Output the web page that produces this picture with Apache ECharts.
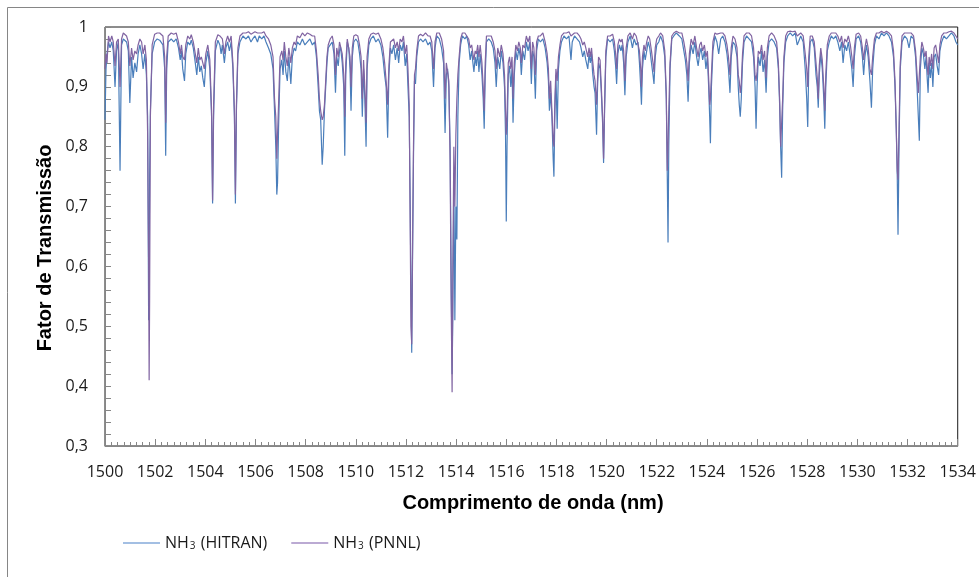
<!DOCTYPE html>
<html>
<head>
<meta charset="utf-8">
<title>NH3 - Fator de Transmissão</title>
<script src="https://cdn.jsdelivr.net/npm/echarts@6/dist/echarts.min.js"></script>
<style>
  html, body { margin: 0; padding: 0; background: #fff; }
  #chart { width: 979px; height: 577px; }
</style>
</head>
<body>
<div id="chart"></div>
<script>
// eixos
var xRange = [1500, 1534, 2];   // min, max, intervalo (nm)
var yRange = [0.3, 1, 0.1];
var seriesNames = ['HITRAN', 'PNNL'];

// [comprimento de onda (nm), fator de transmissao]
var hitran = [
  [1500.00,0.845],[1500.04,0.93],[1500.08,0.955],[1500.14,0.975],[1500.20,0.965],[1500.27,0.975],[1500.33,0.96],[1500.40,0.90],
  [1500.46,0.96],[1500.53,0.975],[1500.60,0.76],[1500.66,0.97],[1500.73,0.98],[1500.79,0.978],[1500.86,0.975],[1500.93,0.96],
  [1500.99,0.873],[1501.06,0.95],[1501.12,0.915],[1501.19,0.94],[1501.26,0.925],[1501.32,0.955],[1501.39,0.97],[1501.46,0.955],
  [1501.52,0.93],[1501.59,0.955],[1501.65,0.92],[1501.70,0.85],[1501.74,0.51],[1501.76,0.60],[1501.78,0.75],[1501.81,0.86],
  [1501.88,0.955],[1501.98,0.975],[1502.08,0.98],[1502.18,0.978],
  [1502.31,0.97],[1502.38,0.93],[1502.42,0.785],[1502.46,0.93],[1502.52,0.975],[1502.64,0.98],[1502.74,0.975],[1502.84,0.98],
  [1502.93,0.965],[1503.00,0.945],[1503.05,0.96],[1503.10,0.93],[1503.17,0.91],[1503.22,0.955],[1503.30,0.975],[1503.38,0.97],
  [1503.44,0.978],[1503.52,0.965],[1503.60,0.94],[1503.66,0.92],[1503.72,0.95],[1503.78,0.925],[1503.84,0.935],[1503.90,0.915],
  [1503.96,0.90],[1504.02,0.94],[1504.10,0.96],[1504.18,0.93],[1504.25,0.85],[1504.29,0.705],[1504.33,0.85],[1504.40,0.96],
  [1504.50,0.978],
  [1504.58,0.97],[1504.63,0.955],[1504.68,0.97],[1504.76,0.94],[1504.82,0.965],[1504.89,0.975],[1504.96,0.96],[1505.03,0.975],
  [1505.10,0.93],[1505.16,0.85],[1505.20,0.705],[1505.24,0.86],[1505.30,0.955],[1505.38,0.975],[1505.50,0.985],[1505.62,0.98],
  [1505.72,0.985],[1505.82,0.975],[1505.89,0.98],[1505.98,0.985],[1506.08,0.975],[1506.15,0.985],[1506.25,0.98],[1506.34,0.985],
  [1506.42,0.975],[1506.52,0.965],[1506.61,0.955],[1506.70,0.93],[1506.76,0.86],[1506.81,0.80],[1506.85,0.72],[1506.88,0.74],
  [1506.92,0.83],[1506.98,0.93],[1507.05,0.945],[1507.10,0.92],[1507.15,0.96],[1507.21,0.925],[1507.27,0.91],[1507.33,0.95],
  [1507.41,0.905],[1507.47,0.95],[1507.54,0.965],[1507.60,0.96],[1507.67,0.975],[1507.77,0.97],[1507.87,0.98],[1507.97,0.97],
  [1508.07,0.975],[1508.17,0.98],[1508.27,0.97],[1508.36,0.975],[1508.43,0.95],
  [1508.50,0.90],[1508.55,0.86],[1508.60,0.845],[1508.66,0.77],[1508.70,0.80],[1508.75,0.86],[1508.80,0.90],[1508.85,0.94],
  [1508.90,0.965],[1508.98,0.97],[1509.06,0.975],[1509.13,0.955],[1509.19,0.89],[1509.24,0.95],[1509.30,0.935],[1509.35,0.96],
  [1509.39,0.967],[1509.46,0.94],[1509.52,0.90],[1509.56,0.785],[1509.60,0.92],[1509.66,0.975],[1509.72,0.965],[1509.77,0.93],
  [1509.81,0.86],[1509.86,0.95],[1509.92,0.975],[1510.00,0.98],[1510.08,0.975],[1510.15,0.955],[1510.21,0.93],[1510.26,0.85],
  [1510.31,0.93],[1510.36,0.88],[1510.41,0.80],[1510.45,0.93],[1510.52,0.97],
  [1510.60,0.98],[1510.70,0.985],[1510.80,0.975],[1510.90,0.98],[1511.00,0.97],[1511.08,0.95],[1511.15,0.92],[1511.21,0.90],
  [1511.27,0.815],[1511.32,0.92],[1511.38,0.965],[1511.44,0.955],[1511.51,0.97],[1511.58,0.945],[1511.65,0.965],[1511.71,0.94],
  [1511.77,0.97],[1511.84,0.96],[1511.90,0.975],[1511.97,0.935],[1512.03,0.955],[1512.08,0.90],[1512.13,0.85],[1512.17,0.70],
  [1512.20,0.56],[1512.23,0.456],[1512.26,0.60],[1512.30,0.78],[1512.34,0.91],[1512.38,0.905],[1512.43,0.95],[1512.50,0.975],
  [1512.58,0.98],[1512.68,0.975],[1512.78,0.98],[1512.88,0.97],[1512.96,0.975],[1513.03,0.96],[1513.10,0.90],[1513.16,0.965],
  [1513.23,0.985],[1513.33,0.98],[1513.42,0.965],[1513.50,0.94],[1513.56,0.823],[1513.61,0.92],[1513.66,0.93],[1513.71,0.90],
  [1513.76,0.80],[1513.80,0.60],[1513.84,0.42],[1513.87,0.52],[1513.91,0.74],[1513.95,0.51],[1513.99,0.70],[1514.03,0.645],
  [1514.07,0.85],[1514.12,0.94],[1514.18,0.97],[1514.25,0.985],[1514.35,0.98],[1514.42,0.985],[1514.50,0.97],
  [1514.56,0.945],[1514.62,0.96],[1514.67,0.94],[1514.71,0.925],[1514.76,0.95],[1514.81,0.935],[1514.86,0.96],[1514.91,0.925],
  [1514.96,0.955],[1515.03,0.92],[1515.08,0.88],[1515.12,0.83],[1515.16,0.92],[1515.21,0.975],[1515.30,0.98],[1515.40,0.975],
  [1515.48,0.965],[1515.55,0.94],[1515.60,0.90],[1515.66,0.95],[1515.74,0.93],[1515.80,0.96],[1515.87,0.94],[1515.93,0.90],
  [1515.97,0.82],[1516.00,0.675],[1516.03,0.80],[1516.08,0.92],[1516.13,0.935],[1516.18,0.90],[1516.23,0.93],[1516.27,0.84],
  [1516.32,0.92],[1516.38,0.96],[1516.44,0.945],[1516.50,0.965],
  [1516.56,0.95],[1516.60,0.92],[1516.66,0.96],[1516.73,0.945],[1516.80,0.975],[1516.87,0.96],[1516.94,0.975],[1517.00,0.905],
  [1517.05,0.96],[1517.10,0.95],[1517.16,0.88],[1517.21,0.96],[1517.28,0.98],[1517.36,0.975],[1517.46,0.98],[1517.55,0.965],
  [1517.63,0.94],[1517.68,0.91],[1517.72,0.86],[1517.77,0.89],[1517.82,0.85],[1517.87,0.78],[1517.90,0.75],[1517.94,0.86],
  [1517.98,0.92],[1518.03,0.83],[1518.08,0.93],[1518.14,0.96],[1518.20,0.975],[1518.30,0.985],[1518.40,0.98],[1518.50,0.985],
  [1518.58,0.945],[1518.63,0.975],[1518.72,0.985],[1518.82,0.98],[1518.92,0.975],[1518.98,0.965],[1519.05,0.95],[1519.11,0.96],
  [1519.17,0.945],[1519.25,0.93],[1519.30,0.955],[1519.35,0.94],[1519.40,0.955],[1519.44,0.925],[1519.50,0.90],[1519.54,0.89],
  [1519.60,0.82],[1519.64,0.90],[1519.68,0.94],[1519.74,0.93],[1519.79,0.89],[1519.84,0.84],[1519.88,0.773],[1519.92,0.86],
  [1519.97,0.95],[1520.04,0.98],[1520.14,0.975],[1520.24,0.98],[1520.31,0.96],[1520.36,0.935],[1520.40,0.905],[1520.45,0.955],
  [1520.51,0.97],
  [1520.57,0.96],[1520.62,0.97],[1520.68,0.94],[1520.73,0.886],[1520.78,0.95],[1520.85,0.975],[1520.94,0.985],[1521.03,0.965],
  [1521.10,0.98],[1521.18,0.97],[1521.25,0.975],[1521.31,0.94],[1521.36,0.90],[1521.39,0.87],[1521.43,0.93],[1521.49,0.96],
  [1521.54,0.945],[1521.60,0.96],[1521.66,0.975],[1521.72,0.965],[1521.79,0.94],[1521.85,0.92],[1521.89,0.905],[1521.94,0.95],
  [1522.00,0.97],[1522.08,0.975],[1522.15,0.985],[1522.24,0.975],[1522.32,0.95],[1522.38,0.88],[1522.42,0.75],[1522.45,0.64],
  [1522.48,0.80],[1522.53,0.93],[1522.60,0.98],
  [1522.68,0.985],[1522.78,0.99],[1522.90,0.985],[1523.00,0.98],[1523.08,0.96],[1523.14,0.945],[1523.20,0.92],[1523.25,0.875],
  [1523.30,0.94],[1523.37,0.97],[1523.45,0.955],[1523.52,0.975],[1523.59,0.95],[1523.65,0.935],[1523.71,0.955],[1523.77,0.965],
  [1523.83,0.945],[1523.90,0.96],[1523.96,0.93],[1524.02,0.95],[1524.07,0.90],[1524.11,0.85],[1524.14,0.806],[1524.18,0.90],
  [1524.24,0.96],[1524.32,0.985],[1524.40,0.975],[1524.47,0.955],[1524.55,0.98],[1524.63,0.985],[1524.72,0.975],[1524.80,0.955],
  [1524.86,0.93],[1524.92,0.89],[1524.97,0.95],[1525.04,0.975],[1525.12,0.97],
  [1525.20,0.95],[1525.25,0.90],[1525.29,0.87],[1525.33,0.85],[1525.37,0.88],[1525.42,0.94],[1525.48,0.975],[1525.58,0.985],
  [1525.68,0.98],[1525.78,0.975],[1525.86,0.95],[1525.92,0.90],[1525.96,0.83],[1526.00,0.90],[1526.05,0.95],[1526.12,0.935],
  [1526.18,0.96],[1526.24,0.925],[1526.30,0.945],[1526.36,0.89],[1526.41,0.95],[1526.48,0.975],[1526.58,0.98],[1526.68,0.975],
  [1526.78,0.965],[1526.85,0.93],[1526.90,0.87],[1526.94,0.80],[1526.98,0.748],[1527.02,0.86],[1527.07,0.94],[1527.14,0.975],
  [1527.22,0.985],
  [1527.32,0.99],[1527.42,0.985],[1527.52,0.99],[1527.60,0.97],[1527.65,0.975],[1527.74,0.985],[1527.84,0.975],[1527.92,0.93],
  [1527.98,0.88],[1528.02,0.833],[1528.06,0.93],[1528.12,0.975],[1528.20,0.98],[1528.28,0.965],[1528.35,0.92],[1528.40,0.90],
  [1528.44,0.865],[1528.48,0.92],[1528.54,0.955],[1528.60,0.93],[1528.66,0.88],[1528.70,0.83],[1528.74,0.90],[1528.80,0.96],
  [1528.88,0.975],[1528.96,0.985],[1529.05,0.98],[1529.14,0.985],[1529.22,0.975],
  [1529.30,0.96],[1529.37,0.975],[1529.43,0.94],[1529.50,0.97],[1529.57,0.96],[1529.64,0.975],[1529.72,0.95],[1529.78,0.93],
  [1529.83,0.90],[1529.88,0.95],[1529.95,0.98],[1530.05,0.985],[1530.13,0.975],[1530.20,0.95],[1530.25,0.92],[1530.30,0.95],
  [1530.36,0.97],[1530.43,0.95],[1530.50,0.91],[1530.56,0.865],[1530.61,0.93],[1530.68,0.97],[1530.76,0.985],[1530.86,0.98],
  [1530.96,0.99],[1531.06,0.985],[1531.16,0.99],[1531.26,0.985],[1531.36,0.975],[1531.44,0.95],[1531.50,0.90],[1531.55,0.83],
  [1531.59,0.75],[1531.62,0.653],[1531.66,0.80],[1531.71,0.93],[1531.78,0.975],
  [1531.88,0.985],[1531.98,0.98],[1532.06,0.965],[1532.14,0.985],[1532.24,0.98],[1532.32,0.95],[1532.38,0.90],[1532.43,0.85],
  [1532.47,0.81],[1532.51,0.93],[1532.57,0.965],[1532.63,0.955],[1532.69,0.93],[1532.74,0.95],[1532.79,0.91],[1532.82,0.89],
  [1532.86,0.94],[1532.91,0.915],[1532.96,0.94],[1533.01,0.90],[1533.06,0.95],[1533.12,0.955],[1533.18,0.935],[1533.24,0.92],
  [1533.29,0.96],[1533.36,0.975],[1533.45,0.985],[1533.55,0.98],[1533.65,0.985],[1533.75,0.99],[1533.85,0.985],[1533.93,0.975],
  [1534.00,0.97]
];

var pnnl = [
  [1500.00,0.93],[1500.04,0.955],[1500.08,0.94],[1500.14,0.985],[1500.20,0.975],[1500.27,0.985],[1500.33,0.975],[1500.40,0.935],
  [1500.46,0.975],[1500.53,0.98],[1500.60,0.90],[1500.66,0.98],[1500.73,0.99],[1500.79,0.988],[1500.86,0.985],[1500.93,0.975],
  [1500.99,0.935],[1501.06,0.965],[1501.12,0.945],[1501.19,0.96],[1501.26,0.955],[1501.32,0.97],[1501.39,0.98],[1501.46,0.975],
  [1501.52,0.955],[1501.59,0.97],[1501.65,0.945],[1501.70,0.82],[1501.74,0.60],[1501.76,0.41],[1501.78,0.55],[1501.81,0.85],
  [1501.88,0.97],[1501.98,0.988],[1502.08,0.99],[1502.18,0.99],
  [1502.31,0.985],[1502.38,0.95],[1502.42,0.84],[1502.46,0.95],[1502.52,0.985],[1502.64,0.99],[1502.74,0.988],[1502.84,0.99],
  [1502.93,0.975],[1503.00,0.955],[1503.05,0.97],[1503.10,0.95],[1503.17,0.945],[1503.22,0.97],[1503.30,0.985],[1503.38,0.98],
  [1503.44,0.987],[1503.52,0.975],[1503.60,0.955],[1503.66,0.94],[1503.72,0.965],[1503.78,0.945],[1503.84,0.95],[1503.90,0.94],
  [1503.96,0.93],[1504.02,0.955],[1504.10,0.97],[1504.18,0.945],[1504.25,0.86],[1504.29,0.71],[1504.33,0.87],[1504.40,0.975],
  [1504.50,0.987],
  [1504.58,0.985],[1504.63,0.985],[1504.68,0.98],[1504.76,0.955],[1504.82,0.975],[1504.89,0.985],[1504.96,0.975],[1505.03,0.985],
  [1505.10,0.94],[1505.16,0.86],[1505.20,0.72],[1505.24,0.87],[1505.30,0.965],[1505.38,0.985],[1505.50,0.99],[1505.62,0.99],
  [1505.72,0.992],[1505.82,0.988],[1505.89,0.99],[1505.98,0.992],[1506.08,0.99],[1506.15,0.99],[1506.25,0.99],[1506.34,0.992],
  [1506.42,0.985],[1506.52,0.98],[1506.61,0.97],[1506.70,0.95],[1506.76,0.88],[1506.81,0.85],[1506.85,0.78],[1506.88,0.82],
  [1506.92,0.87],[1506.98,0.95],[1507.05,0.96],[1507.10,0.945],[1507.15,0.975],[1507.21,0.95],[1507.27,0.935],[1507.33,0.965],
  [1507.41,0.94],[1507.47,0.965],[1507.54,0.975],[1507.60,0.97],[1507.67,0.985],[1507.77,0.982],[1507.87,0.99],[1507.97,0.985],
  [1508.07,0.99],[1508.17,0.988],[1508.27,0.985],[1508.36,0.985],[1508.43,0.96],
  [1508.50,0.92],[1508.55,0.88],[1508.60,0.86],[1508.66,0.845],[1508.70,0.85],[1508.75,0.87],[1508.80,0.91],[1508.85,0.95],
  [1508.90,0.97],[1508.98,0.98],[1509.06,0.985],[1509.13,0.97],[1509.19,0.92],[1509.24,0.965],[1509.30,0.95],[1509.35,0.975],
  [1509.39,0.975],[1509.46,0.955],[1509.52,0.92],[1509.56,0.85],[1509.60,0.94],[1509.66,0.98],[1509.72,0.978],[1509.77,0.95],
  [1509.81,0.90],[1509.86,0.965],[1509.92,0.985],[1510.00,0.987],[1510.08,0.985],[1510.15,0.97],[1510.21,0.95],[1510.26,0.88],
  [1510.31,0.945],[1510.36,0.90],[1510.41,0.84],[1510.45,0.95],[1510.52,0.98],
  [1510.60,0.988],[1510.70,0.99],[1510.80,0.988],[1510.90,0.99],[1511.00,0.98],[1511.08,0.965],[1511.15,0.94],[1511.21,0.91],
  [1511.27,0.87],[1511.32,0.935],[1511.38,0.975],[1511.44,0.975],[1511.51,0.98],[1511.58,0.965],[1511.65,0.975],[1511.71,0.96],
  [1511.77,0.98],[1511.84,0.975],[1511.90,0.985],[1511.97,0.955],[1512.03,0.97],[1512.08,0.93],[1512.13,0.87],[1512.17,0.66],
  [1512.20,0.50],[1512.23,0.47],[1512.26,0.62],[1512.30,0.80],[1512.34,0.92],[1512.38,0.93],[1512.43,0.96],[1512.50,0.985],
  [1512.58,0.988],[1512.68,0.985],[1512.78,0.99],[1512.88,0.985],[1512.96,0.985],[1513.03,0.975],[1513.10,0.93],[1513.16,0.975],
  [1513.23,0.99],[1513.33,0.99],[1513.42,0.98],[1513.50,0.96],[1513.56,0.88],[1513.61,0.94],[1513.66,0.94],[1513.71,0.91],
  [1513.76,0.78],[1513.80,0.55],[1513.84,0.39],[1513.87,0.60],[1513.91,0.80],[1513.95,0.70],[1513.99,0.82],[1514.03,0.88],
  [1514.07,0.92],[1514.12,0.95],[1514.18,0.98],[1514.25,0.99],[1514.35,0.99],[1514.42,0.99],[1514.50,0.98],
  [1514.56,0.965],[1514.62,0.97],[1514.67,0.955],[1514.71,0.945],[1514.76,0.96],[1514.81,0.955],[1514.86,0.97],[1514.91,0.95],
  [1514.96,0.97],[1515.03,0.94],[1515.08,0.90],[1515.12,0.86],[1515.16,0.94],[1515.21,0.985],[1515.30,0.985],[1515.40,0.985],
  [1515.48,0.975],[1515.55,0.96],[1515.60,0.93],[1515.66,0.965],[1515.74,0.95],[1515.80,0.97],[1515.87,0.955],[1515.93,0.92],
  [1515.97,0.86],[1516.00,0.82],[1516.03,0.85],[1516.08,0.94],[1516.13,0.95],[1516.18,0.93],[1516.23,0.95],[1516.27,0.88],
  [1516.32,0.94],[1516.38,0.97],[1516.44,0.96],[1516.50,0.975],
  [1516.56,0.965],[1516.60,0.94],[1516.66,0.97],[1516.73,0.965],[1516.80,0.985],[1516.87,0.975],[1516.94,0.985],[1517.00,0.93],
  [1517.05,0.975],[1517.10,0.965],[1517.16,0.92],[1517.21,0.975],[1517.28,0.985],[1517.36,0.985],[1517.46,0.99],[1517.55,0.975],
  [1517.63,0.955],[1517.68,0.93],[1517.72,0.88],[1517.77,0.91],[1517.82,0.86],[1517.87,0.81],[1517.90,0.80],[1517.94,0.88],
  [1517.98,0.93],[1518.03,0.91],[1518.08,0.95],[1518.14,0.97],[1518.20,0.985],[1518.30,0.99],[1518.40,0.99],[1518.50,0.992],
  [1518.58,0.985],[1518.63,0.988],[1518.72,0.99],[1518.82,0.99],[1518.92,0.985],[1518.98,0.98],[1519.05,0.97],[1519.11,0.975],
  [1519.17,0.965],[1519.25,0.95],[1519.30,0.965],[1519.35,0.95],[1519.40,0.965],[1519.44,0.945],[1519.50,0.92],[1519.54,0.91],
  [1519.60,0.87],[1519.64,0.915],[1519.68,0.95],[1519.74,0.945],[1519.79,0.90],[1519.84,0.85],[1519.88,0.78],[1519.92,0.87],
  [1519.97,0.96],[1520.04,0.985],[1520.14,0.985],[1520.24,0.988],[1520.31,0.975],[1520.36,0.955],[1520.40,0.93],[1520.45,0.97],
  [1520.51,0.98],
  [1520.57,0.975],[1520.62,0.98],[1520.68,0.96],[1520.73,0.91],[1520.78,0.965],[1520.85,0.985],[1520.94,0.99],[1521.03,0.98],
  [1521.10,0.99],[1521.18,0.985],[1521.25,0.985],[1521.31,0.96],[1521.36,0.93],[1521.39,0.90],[1521.43,0.95],[1521.49,0.97],
  [1521.54,0.96],[1521.60,0.975],[1521.66,0.985],[1521.72,0.98],[1521.79,0.96],[1521.85,0.94],[1521.89,0.925],[1521.94,0.965],
  [1522.00,0.98],[1522.08,0.985],[1522.15,0.99],[1522.24,0.985],[1522.32,0.96],[1522.38,0.89],[1522.42,0.76],[1522.45,0.80],
  [1522.48,0.86],[1522.53,0.94],[1522.60,0.985],
  [1522.68,0.99],[1522.78,0.993],[1522.90,0.99],[1523.00,0.99],[1523.08,0.975],[1523.14,0.96],[1523.20,0.94],[1523.25,0.91],
  [1523.30,0.955],[1523.37,0.98],[1523.45,0.97],[1523.52,0.985],[1523.59,0.965],[1523.65,0.95],[1523.71,0.97],[1523.77,0.975],
  [1523.83,0.96],[1523.90,0.97],[1523.96,0.95],[1524.02,0.96],[1524.07,0.915],[1524.11,0.87],[1524.14,0.88],[1524.18,0.92],
  [1524.24,0.975],[1524.32,0.99],[1524.40,0.988],[1524.47,0.985],[1524.55,0.99],[1524.63,0.99],[1524.72,0.985],[1524.80,0.97],
  [1524.86,0.95],[1524.92,0.92],[1524.97,0.965],[1525.04,0.985],[1525.12,0.98],
  [1525.20,0.965],[1525.25,0.92],[1525.29,0.91],[1525.33,0.89],[1525.37,0.905],[1525.42,0.955],[1525.48,0.985],[1525.58,0.99],
  [1525.68,0.99],[1525.78,0.985],[1525.86,0.965],[1525.92,0.92],[1525.96,0.91],[1526.00,0.925],[1526.05,0.96],[1526.12,0.955],
  [1526.18,0.97],[1526.24,0.945],[1526.30,0.96],[1526.36,0.915],[1526.41,0.965],[1526.48,0.985],[1526.58,0.99],[1526.68,0.985],
  [1526.78,0.975],[1526.85,0.94],[1526.90,0.88],[1526.94,0.80],[1526.98,0.80],[1527.02,0.88],[1527.07,0.95],[1527.14,0.985],
  [1527.22,0.992],
  [1527.32,0.993],[1527.42,0.992],[1527.52,0.993],[1527.60,0.985],[1527.65,0.987],[1527.74,0.99],[1527.84,0.985],[1527.92,0.955],
  [1527.98,0.93],[1528.02,0.90],[1528.06,0.95],[1528.12,0.985],[1528.20,0.985],[1528.28,0.975],[1528.35,0.94],[1528.40,0.915],
  [1528.44,0.88],[1528.48,0.935],[1528.54,0.965],[1528.60,0.945],[1528.66,0.90],[1528.70,0.86],[1528.74,0.92],[1528.80,0.97],
  [1528.88,0.985],[1528.96,0.99],[1529.05,0.99],[1529.14,0.99],[1529.22,0.985],
  [1529.30,0.975],[1529.37,0.985],[1529.43,0.965],[1529.50,0.98],[1529.57,0.975],[1529.64,0.985],[1529.72,0.97],[1529.78,0.95],
  [1529.83,0.93],[1529.88,0.965],[1529.95,0.988],[1530.05,0.99],[1530.13,0.985],[1530.20,0.965],[1530.25,0.945],[1530.30,0.965],
  [1530.36,0.98],[1530.43,0.965],[1530.50,0.93],[1530.56,0.92],[1530.61,0.95],[1530.68,0.98],[1530.76,0.99],[1530.86,0.99],
  [1530.96,0.993],[1531.06,0.99],[1531.16,0.993],[1531.26,0.99],[1531.36,0.985],[1531.44,0.96],[1531.50,0.91],[1531.55,0.83],
  [1531.59,0.76],[1531.62,0.745],[1531.66,0.83],[1531.71,0.94],[1531.78,0.985],
  [1531.88,0.99],[1531.98,0.99],[1532.06,0.99],[1532.14,0.99],[1532.24,0.985],[1532.32,0.96],[1532.38,0.92],[1532.43,0.89],
  [1532.47,0.92],[1532.51,0.95],[1532.57,0.975],[1532.63,0.965],[1532.69,0.95],[1532.74,0.96],[1532.79,0.93],[1532.82,0.92],
  [1532.86,0.95],[1532.91,0.935],[1532.96,0.955],[1533.01,0.93],[1533.06,0.965],[1533.12,0.97],[1533.18,0.955],[1533.24,0.94],
  [1533.29,0.97],[1533.36,0.985],[1533.45,0.99],[1533.55,0.99],[1533.65,0.992],[1533.75,0.993],[1533.85,0.99],[1533.93,0.985],
  [1534.00,0.98]
];

var fonte = 'Open Sans';
var fonteTitulo = 'Liberation Sans';
var corEixo = '#868686';

var chart = echarts.init(document.getElementById('chart'));

chart.setOption({
  animation: false,
  backgroundColor: '#fff',
  grid: {
    left: 105,
    right: 17,
    top: 27,
    bottom: 131,
    show: true,
    borderColor: '#1a1a1a',
    borderWidth: 1
  },
  legend: {
    left: 118,
    top: 530,
    icon: 'rect',
    itemWidth: 37,
    itemHeight: 2,
    itemGap: 24,
    data: seriesNames,
    formatter: function (n) {
      return 'NH{sub|3} (' + n + ')';
    },
    textStyle: {
      fontFamily: fonte,
      fontSize: 16,
      color: '#1a1a1a',
      rich: {
        sub: { fontSize: 10, fontFamily: fonte, verticalAlign: 'bottom', padding: [7, 1, 0, 1] }
      }
    }
  },
  xAxis: {
    type: 'value',
    min: xRange[0],
    max: xRange[1],
    interval: xRange[2],
    axisLine: { onZero: false, lineStyle: { color: corEixo } },
    axisTick: { inside: true, length: 7, lineStyle: { color: corEixo } },
    minorTick: { show: true, splitNumber: 8, length: 4, lineStyle: { color: corEixo } },
    splitLine: { show: false },
    axisLabel: {
      margin: 18,
      fontFamily: fonte,
      fontSize: 16,
      color: '#1a1a1a',
      formatter: function (v) { return String(v); }
    }
  },
  yAxis: {
    type: 'value',
    min: yRange[0],
    max: yRange[1],
    interval: yRange[2],
    axisLine: { show: true, onZero: false, lineStyle: { color: corEixo } },
    axisTick: { show: true, inside: true, length: 6, lineStyle: { color: corEixo } },
    minorTick: { show: true, splitNumber: 5, length: 6, lineStyle: { color: corEixo } },
    splitLine: { show: false },
    axisLabel: {
      margin: 17,
      fontFamily: fonte,
      fontSize: 16,
      color: '#1a1a1a',
      formatter: function (v) {
        return String(+v.toFixed(1)).replace('.', ',');
      }
    }
  },
  graphic: [
    {
      type: 'rect',
      silent: true,
      shape: { x: 7.5, y: 7.5, width: 1000, height: 1000 },
      style: { fill: 'none', stroke: corEixo, lineWidth: 1 }
    },
    {
      type: 'text',
      x: 45,
      y: 248,
      rotation: Math.PI / 2,
      style: {
        text: 'Fator de Transmissão',
        font: 'bold 20px ' + fonteTitulo,
        fill: '#000',
        align: 'center',
        verticalAlign: 'middle'
      }
    },
    {
      type: 'text',
      x: 533,
      y: 503,
      style: {
        text: 'Comprimento de onda (nm)',
        font: 'bold 20px ' + fonteTitulo,
        fill: '#000',
        align: 'center',
        verticalAlign: 'middle'
      }
    }
  ],
  series: [
    {
      name: seriesNames[0],
      type: 'line',
      data: hitran,
      symbol: 'none',
      lineStyle: { width: 1.2, color: '#4A7EBB' },
      itemStyle: { color: '#A3BFE3' }   // cor clara do icone da legenda
    },
    {
      name: seriesNames[1],
      type: 'line',
      data: pnnl,
      symbol: 'none',
      lineStyle: { width: 1.2, color: '#8064A2' },
      itemStyle: { color: '#BBAAD3' }
    }
  ]
});
</script>
</body>
</html>
